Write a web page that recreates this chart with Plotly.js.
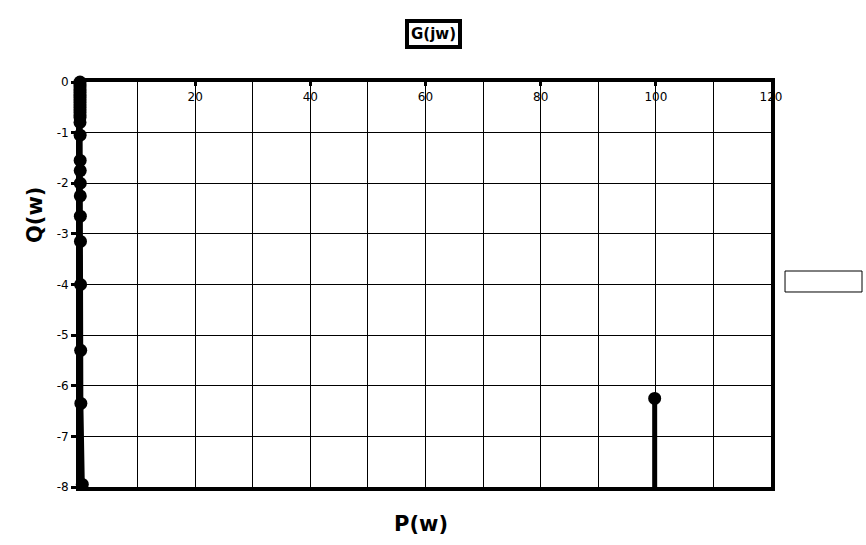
<!DOCTYPE html>
<html>
<head>
<meta charset="utf-8">
<script src="https://cdn.plot.ly/plotly-3.0.1.min.js"></script>
<style>html,body{margin:0;padding:0;background:#fff;}#chart{width:866px;height:545px;}</style>
</head>
<body>
<div id="chart"></div>
<script>
// G(jw): real part P(w), imaginary part Q(w)
const P = [0, 0, 0, 0, 0, 0, 0, 0, 0, 0, 0, 0, 0, 0, 0, 0, 0.02, 0.03, 0.04, 0.05, 0.05, 0.06, 0.08, 0.1, 0.12, 0.15, 0.4, 0.45, null, 99.8, 99.8];
const Q = [0, -0.05, -0.1, -0.15, -0.2, -0.25, -0.3, -0.35, -0.4, -0.45, -0.5, -0.55, -0.6, -0.65, -0.7, -0.8, -1.05, -1.55, -1.75, -2.0, -2.25, -2.65, -3.15, -4.0, -5.3, -6.35, -7.95, -9.0, null, -6.25, -9.0];
const xTickVals = [20, 40, 60, 80, 100, 120];
const yTickVals = [0, -1, -2, -3, -4, -5, -6, -7, -8];
const yTickText = ['0', '-1', '-2', '-3', '-4', '-5', '-6', '-7', '-8'];

const font = 'DejaVu Sans, sans-serif';
// points inside the visible range get markers (not clipped)
const mP = [], mQ = [];
P.forEach((p, i) => { if (p !== null && Q[i] >= -8) { mP.push(p); mQ.push(Q[i]); } });

const lineTrace = {
  x: P, y: Q, type: 'scatter', mode: 'lines',
  line: {color: '#000', width: 5},
  connectgaps: false, showlegend: false, cliponaxis: true
};
const markerTrace = {
  x: mP, y: mQ, type: 'scatter', mode: 'markers',
  marker: {color: '#000', size: 13},
  showlegend: false, cliponaxis: false
};
const layout = {
  width: 866, height: 545,
  margin: {l: 80, r: 95, t: 82, b: 58},
  paper_bgcolor: '#fff', plot_bgcolor: '#fff',
  font: {family: font, color: '#000', size: 12},
  showlegend: false,
  xaxis: {
    range: [0, 120], side: 'top', tickvals: xTickVals,
    ticks: 'inside', ticklen: 4, tickwidth: 3, tickcolor: '#000',
    ticklabelposition: 'inside', ticklabeloverflow: 'allow', ticklabelstandoff: 6,
    tickfont: {size: 12, color: '#000', family: font},
    showgrid: true, gridcolor: '#000', gridwidth: 1,
    minor: {dtick: 10, tick0: 0, showgrid: true, gridcolor: '#000', gridwidth: 1, ticks: ''},
    showline: true, linecolor: '#000', linewidth: 4, mirror: true, zeroline: false
  },
  yaxis: {
    range: [-8, 0], tickvals: yTickVals, ticktext: yTickText,
    ticks: 'outside', ticklen: 5, tickwidth: 3, tickcolor: '#000',
    ticklabeloverflow: 'allow',
    tickfont: {size: 12, color: '#000', family: font},
    showgrid: true, gridcolor: '#000', gridwidth: 1,
    showline: true, linecolor: '#000', linewidth: 4, mirror: true, zeroline: false
  },
  annotations: [
    {text: '<b>G(jw)</b>', xref: 'paper', yref: 'paper', x: 0.5123, y: 1.1185,
     xanchor: 'center', yanchor: 'middle',
     showarrow: false, font: {size: 15, family: font, color: '#000'},
     bordercolor: '#000', borderwidth: 4, borderpad: 2, bgcolor: '#fff'},
    {text: '<b>P(w)</b>', xref: 'paper', yref: 'paper', x: 0.4935, y: -0.0914,
     xanchor: 'center', yanchor: 'middle',
     showarrow: false, font: {size: 21, family: font, color: '#000'}},
    {text: '<b>Q(w)</b>', xref: 'paper', yref: 'paper', x: -0.0651, y: 0.6716,
     xanchor: 'center', yanchor: 'middle',
     textangle: -90, showarrow: false, font: {size: 21, family: font, color: '#000'}}
  ],
  shapes: [
    {type: 'rect', xref: 'paper', yref: 'paper', x0: 1.0203, x1: 1.1317, y0: 0.4815, y1: 0.5333,
     line: {color: '#000', width: 1}, fillcolor: '#fff'}
  ]
};
Plotly.newPlot('chart', [lineTrace, markerTrace], layout, {displayModeBar: false, staticPlot: true});
</script>
</body>
</html>
